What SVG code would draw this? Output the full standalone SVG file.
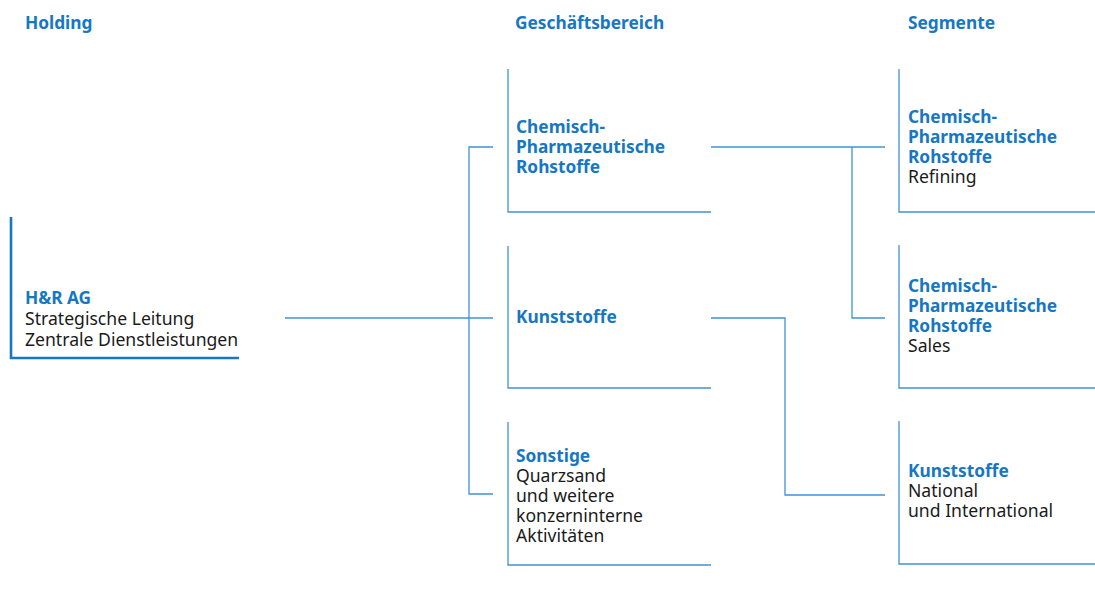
<svg xmlns="http://www.w3.org/2000/svg" width="1095" height="604" viewBox="0 0 1095 604">
<style>
text{font-family:"Noto Sans","Open Sans","Liberation Sans",sans-serif;font-size:17.6px;fill:#1a1a1a}
.h{font-weight:bold;fill:#1677c2;font-size:17.3px}
.t{font-weight:bold;fill:#1677c2;font-size:17.3px}
.box{fill:none;stroke:#4193d3;stroke-width:1.3}
.main{fill:none;stroke:#1677c2;stroke-width:2.6}
.c{fill:none;stroke:#4193d3;stroke-width:1.3}
</style>
<rect width="1095" height="604" fill="#fff"/>
<g id="headers">
<text class="h" x="25" y="29">Holding</text>
<text class="h" x="515" y="29">Geschäftsbereich</text>
<text class="h" x="908" y="29">Segmente</text>
</g>
<g id="holding">
<path class="main" d="M11,217 V358 H239"/>
<text class="t" x="25" y="304">H&amp;R AG</text>
<text x="25" y="325">Strategische Leitung</text>
<text x="25" y="346">Zentrale Dienstleistungen</text>
</g>
<g id="gb-chem">
<path class="box" d="M508,69 V212 H711"/>
<text class="t" x="516" y="133">Chemisch-</text>
<text class="t" x="516" y="153">Pharmazeutische</text>
<text class="t" x="516" y="173">Rohstoffe</text>
</g>
<g id="gb-kunst">
<path class="box" d="M508,246 V388 H711"/>
<text class="t" x="516" y="323">Kunststoffe</text>
</g>
<g id="gb-sonst">
<path class="box" d="M508,422 V565 H711"/>
<text class="t" x="516" y="462">Sonstige</text>
<text x="516" y="482">Quarzsand</text>
<text x="516" y="502">und weitere</text>
<text x="516" y="522">konzerninterne</text>
<text x="516" y="542">Aktivitäten</text>
</g>
<g id="seg-refining">
<path class="box" d="M899,69 V212 H1095"/>
<text class="t" x="908" y="123">Chemisch-</text>
<text class="t" x="908" y="143">Pharmazeutische</text>
<text class="t" x="908" y="163">Rohstoffe</text>
<text x="908" y="183">Refining</text>
</g>
<g id="seg-sales">
<path class="box" d="M899,245 V388 H1095"/>
<text class="t" x="908" y="292">Chemisch-</text>
<text class="t" x="908" y="312">Pharmazeutische</text>
<text class="t" x="908" y="332">Rohstoffe</text>
<text x="908" y="352">Sales</text>
</g>
<g id="seg-kunst">
<path class="box" d="M899,421 V564 H1095"/>
<text class="t" x="908" y="477">Kunststoffe</text>
<text x="908" y="497">National</text>
<text x="908" y="517">und International</text>
</g>
<g id="connectors">
<path class="c" d="M285,318 H493"/>
<path class="c" d="M493,147 H469 V494 H493"/>
<path class="c" d="M711,147 H885"/>
<path class="c" d="M852,147 V318 H885"/>
<path class="c" d="M711,318 H785 V495 H885"/>
</g>
</svg>
